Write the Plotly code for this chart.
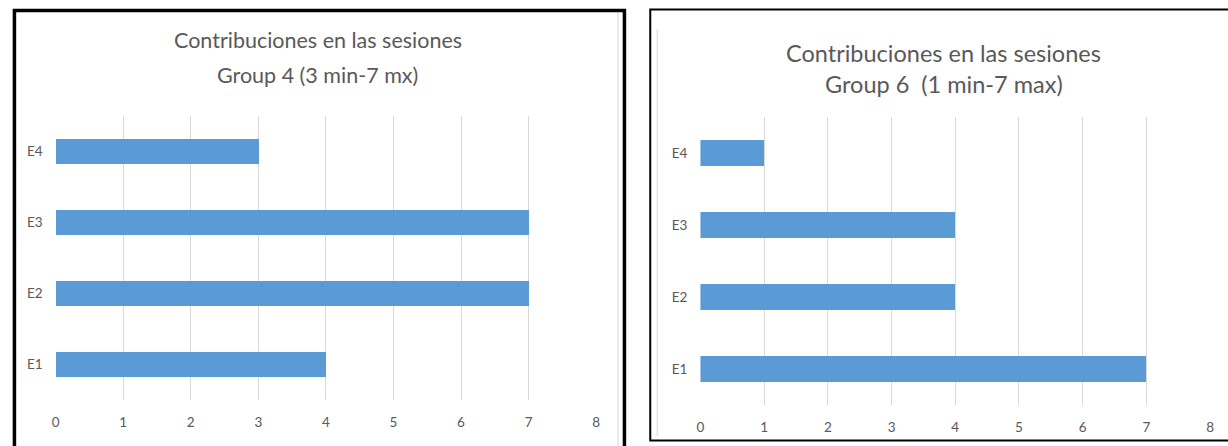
import plotly.graph_objects as go

W, H = 1228, 446

categories = ["E1", "E2", "E3", "E4"]
group4_values = [4, 7, 7, 3]
group6_values = [7, 4, 4, 1]
x_ticks = [0, 1, 2, 3, 4, 5, 6, 7, 8]

title4 = ["Contribuciones en las sesiones", "Group 4 (3 min-7 mx)"]
title6 = ["Contribuciones en las sesiones", "Group 6&nbsp;&nbsp;(1 min-7 max)"]

BAR = "#5B9BD5"
GRID = "#d9d9d9"
TXT = "#595959"
FONT = "Lato"


def px(x):
    return x / W


def py(y):
    return 1 - y / H


fig = go.Figure()
fig.add_trace(go.Bar(y=categories, x=group4_values, orientation="h",
                     marker=dict(color=BAR, line=dict(width=0)), width=0.36,
                     xaxis="x", yaxis="y", hoverinfo="x+y"))
fig.add_trace(go.Bar(y=categories, x=group6_values, orientation="h",
                     marker=dict(color=BAR, line=dict(width=0)), width=0.36,
                     xaxis="x2", yaxis="y2", hoverinfo="x+y"))

xcommon = dict(range=[0, 8], tickvals=x_ticks, showgrid=True, gridcolor=GRID,
               gridwidth=1, zeroline=False, showline=False, ticks="",
               tickfont=dict(family=FONT, size=13.5, color=TXT), ticklabelstandoff=12)
ycommon = dict(type="category", categoryorder="array", categoryarray=categories,
               range=[-0.5, 3.5], showgrid=False, zeroline=False, showline=False,
               ticks="", tickfont=dict(family=FONT, size=13.5, color=TXT),
               ticklabelstandoff=12)

fig.update_layout(
    width=W, height=H,
    margin=dict(l=0, r=0, t=0, b=0),
    paper_bgcolor="white", plot_bgcolor="white",
    showlegend=False, bargap=0,
    xaxis=dict(domain=[px(52), px(596)], anchor="y", **xcommon),
    yaxis=dict(domain=[py(400), py(116)], anchor="x", **ycommon),
    xaxis2=dict(domain=[px(701), px(1214)], anchor="y2", **xcommon),
    yaxis2=dict(domain=[py(405), py(117)], anchor="x2", **ycommon),
)

annotations = []
for (cx, y1, y2, lines, size) in [(316, 40, 75, title4, 21.5), (946, 53, 84, title6, 23.5)]:
    for yy, t in zip((y1, y2), lines):
        annotations.append(dict(text=t, x=px(cx), y=py(yy), xref="paper", yref="paper",
                                xanchor="center", yanchor="middle", showarrow=False,
                                font=dict(family=FONT, size=size, color=TXT)))
fig.update_layout(annotations=annotations)

shapes = [
    # faint inner chart-area borders
    dict(type="line", xref="paper", yref="paper", x0=px(618), x1=px(618), y0=py(13), y1=py(446),
         line=dict(color=GRID, width=1)),
    dict(type="line", xref="paper", yref="paper", x0=px(657.5), x1=px(657.5), y0=py(29), y1=py(436),
         line=dict(color=GRID, width=1)),
    # left panel frame
    dict(type="path", xref="paper", yref="paper",
         path=f"M {px(10.5)} {py(470)} L {px(10.5)} {py(10.5)} L {px(624.5)} {py(10.5)} L {px(624.5)} {py(470)}",
         line=dict(color="black", width=3.5)),
    # right panel frame
    dict(type="rect", xref="paper", yref="paper", x0=px(650.5), x1=px(1240), y0=py(440.5), y1=py(9.5),
         line=dict(color="black", width=2)),
]
fig.update_layout(shapes=shapes)

fig.write_html("out.html")
